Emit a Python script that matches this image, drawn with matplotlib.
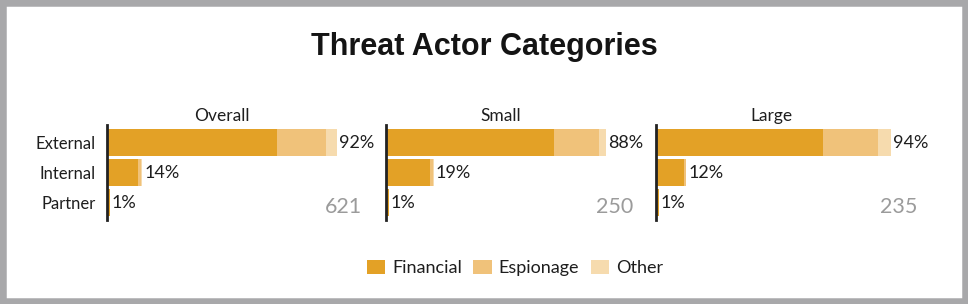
import matplotlib
matplotlib.use("Agg")
import matplotlib.pyplot as plt
from matplotlib.patches import Rectangle, Patch

# ---- data ----
panels = ["Overall", "Small", "Large"]
counts = ["621", "250", "235"]
categories = ["External", "Internal", "Partner"]
series = ["Financial", "Espionage", "Other"]
totals = {
    "Overall": [92, 14, 1],
    "Small": [88, 19, 1],
    "Large": [94, 12, 1],
}
financial = {
    "Overall": [68, 12.5, 1],
    "Small": [67, 17.6, 1],
    "Large": [67, 11, 1],
}
espionage = {
    "Overall": [19.5, 1, 0],
    "Small": [18, 1.2, 0],
    "Large": [22, 0.8, 0],
}
other = {
    "Overall": [4.5, 0.5, 0],
    "Small": [3, 0.2, 0],
    "Large": [5, 0.2, 0],
}

colors = ["#E3A126", "#F0C27A", "#F6DBAE"]
FONT = ["Lato", "DejaVu Sans"]
plt.rcParams["font.family"] = FONT
TXT = "#1e1e1e"

W, H = 968, 304
fig = plt.figure(figsize=(W / 100, H / 100), dpi=100)
fig.patch.set_facecolor("white")

# grey frame
fig.add_artist(Rectangle((0, 0), 1, 1, transform=fig.transFigure,
                         facecolor="none", edgecolor="#A8A8AA", linewidth=9))

fig.text(484 / W, 1 - 47 / H, "Threat Actor Categories", ha="center", va="center",
         fontsize=22, fontweight="bold", family=["Liberation Sans", "DejaVu Sans"],
         color="#141414")

lefts = [107, 386, 656]
count_x = [102, 98.8, 104.4]
axw = 265
top_px, bot_px = 124.5, 220
for i, p in enumerate(panels):
    ax = fig.add_axes([lefts[i] / W, 1 - bot_px / H, axw / W, (bot_px - top_px) / H])
    y = list(range(len(categories)))
    ax.barh(y, financial[p], height=0.9, color=colors[0], linewidth=0)
    ax.barh(y, espionage[p], left=financial[p], height=0.9, color=colors[1], linewidth=0)
    left2 = [a + b for a, b in zip(financial[p], espionage[p])]
    ax.barh(y, other[p], left=left2, height=0.9, color=colors[2], linewidth=0)
    ax.set_xlim(0, 106)
    ax.set_ylim(2.6, -0.6)
    for yy, t in zip(y, totals[p]):
        ax.text(t + 1.0, yy + 0.03, f"{t}%", va="center", ha="left", fontsize=13, color=TXT)
    ax.text(count_x[i], 2.15, counts[i], ha="right", va="center", fontsize=15.5, color="#9B9B9B")
    ax.text(46, -0.9, p, ha="center", va="center", fontsize=12.5, color=TXT)
    for s in ["top", "right", "bottom"]:
        ax.spines[s].set_visible(False)
    ax.spines["left"].set_linewidth(2)
    ax.spines["left"].set_color("#222222")
    ax.set_xticks([])
    ax.set_yticks(y)
    if i == 0:
        ax.set_yticklabels(categories, fontsize=12, color=TXT)
        ax.tick_params(axis="y", length=0, pad=8)
    else:
        ax.set_yticklabels([])
        ax.tick_params(axis="y", length=0)
    ax.patch.set_alpha(0)

handles = [Patch(facecolor=c, edgecolor="none") for c in colors]
fig.legend(handles, series, ncol=3, loc="center", bbox_to_anchor=(515 / W, 1 - 268 / H),
           frameon=False, fontsize=13, handlelength=1.0, handleheight=0.8,
           handletextpad=0.4, columnspacing=0.65, labelcolor=TXT)

fig.savefig("out.png", dpi=100, facecolor="white")
